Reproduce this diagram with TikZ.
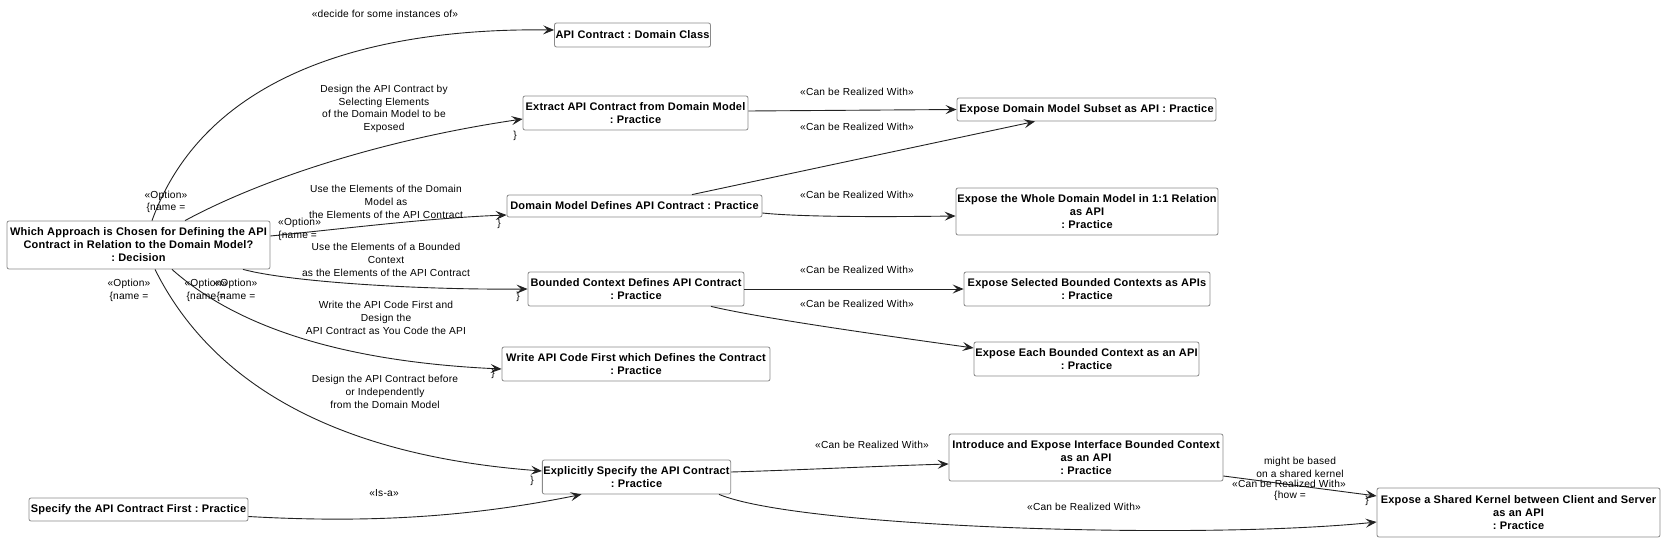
\documentclass[tikz,border=0pt]{standalone}
\usepackage{fontspec}
\setmainfont{Liberation Sans}
\newfontfamily\boxfont{Liberation Sans}[LetterSpace=2.0]
\newfontfamily\lblfont{Liberation Sans}[LetterSpace=2.0]
\usetikzlibrary{arrows.meta}
\definecolor{boxgray}{HTML}{8A8A8A}
\definecolor{linec}{HTML}{222222}
\begin{document}
\frenchspacing
\begin{tikzpicture}[x=1pt,y=-1pt,
  box/.style={draw=boxgray, fill=white, rounded corners=2pt, align=center,
    font=\boxfont\fontsize{11}{13}\selectfont\bfseries, inner sep=1pt, line width=0.8pt},
  conn/.style={draw=linec, line width=0.9pt, -{Stealth[length=11pt,width=9pt,inset=4.5pt]}},
  lbl/.style={align=center, font=\lblfont\fontsize{10.2}{12.7}\selectfont, inner sep=0pt}]
\useasboundingbox (0,0) rectangle (1668,543);

% nodes
\node[box, minimum width=263pt, minimum height=48pt] (dec) at (138.5,245)
  {Which Approach is Chosen for Defining the API\\Contract in Relation to the Domain Model?\\: Decision};
\node[box, minimum width=151pt, minimum height=24pt] (dc) at (632.5,35) {API Contract : Domain Class};
\node[box, minimum width=225pt, minimum height=34pt] (ex) at (635.5,113) {Extract API Contract from Domain Model\\: Practice};
\node[box, minimum width=259pt, minimum height=23pt] (sub) at (1086.5,109.5) {Expose Domain Model Subset as API : Practice};
\node[box, minimum width=255pt, minimum height=22pt] (dm) at (634.5,206) {Domain Model Defines API Contract : Practice};
\node[box, minimum width=262pt, minimum height=47pt] (whole) at (1087,211.5) {Expose the Whole Domain Model in 1:1 Relation\\as API\\: Practice};
\node[box, minimum width=216pt, minimum height=34pt] (bc) at (636,289) {Bounded Context Defines API Contract\\: Practice};
\node[box, minimum width=246pt, minimum height=34pt] (sel) at (1087,289) {Expose Selected Bounded Contexts as APIs\\: Practice};
\node[box, minimum width=225pt, minimum height=34pt] (each) at (1086.5,359) {Expose Each Bounded Context as an API\\: Practice};
\node[box, minimum width=268pt, minimum height=34pt] (wr) at (636,364) {Write API Code First which Defines the Contract\\: Practice};
\node[box, minimum width=274pt, minimum height=47pt] (intro) at (1086,457.5) {Introduce and Expose Interface Bounded Context\\as an API\\: Practice};
\node[box, minimum width=187pt, minimum height=34pt] (expl) at (636.5,477) {Explicitly Specify the API Contract\\: Practice};
\node[box, minimum width=219pt, minimum height=23pt] (spec) at (138.5,509.5) {Specify the API Contract First : Practice};
\node[box, minimum width=283pt, minimum height=49pt] (sk) at (1518.5,512.5) {Expose a Shared Kernel between Client and Server\\as an API\\: Practice};

% connectors
\draw[conn] ([xshift=13.5pt]dec.north) .. controls (210,60) and (400,28) .. ([yshift=5pt]dc.west);
\draw[conn] ([xshift=46.5pt]dec.north) .. controls (260,180) and (380,140) .. ([yshift=-6pt]ex.west);
\draw[conn] ([yshift=9pt]dec.east) .. controls (350,228) and (430,218) .. ([yshift=-9pt]dm.west);
\draw[conn] ([xshift=104.5pt]dec.south) .. controls (290,282) and (420,290) .. (bc.west);
\draw[conn] ([xshift=33.5pt]dec.south) .. controls (240,330) and (350,362) .. ([yshift=-5pt]wr.west);
\draw[conn] ([xshift=16.5pt]dec.south) .. controls (210,380) and (330,455) .. ([yshift=6pt]expl.west);
\draw[conn] ([yshift=-7pt]spec.east) .. controls (380,524) and (480,515) .. ([xshift=-55pt]expl.south);
\draw[conn] ([yshift=2pt]ex.east) -- (sub.west);
\draw[conn] ([xshift=57.5pt]dm.north) -- ([xshift=-51.5pt]sub.south);
\draw[conn] ([yshift=-7pt]dm.east) .. controls (800,217) and (880,217) .. ([yshift=-4.5pt]whole.west);
\draw[conn] (bc.east) -- (sel.west);
\draw[conn] ([xshift=75pt]bc.south) .. controls (760,318) and (880,335) .. ([yshift=11pt]each.west);
\draw[conn] ([yshift=5pt]expl.east) .. controls (800,470) and (880,466) .. ([yshift=-6.5pt]intro.west);
\draw[conn] ([xshift=82.5pt]expl.south) .. controls (800,528) and (1200,540) .. ([yshift=-9.5pt]sk.west);
\draw[conn] ([yshift=-18.5pt]intro.east) -- ([yshift=16.5pt]sk.west);

% labels
\node[lbl] (la) at (385,14) {«decide for some instances of»};
\node[lbl] (lb) at (384,109) {Design the API Contract by\\Selecting Elements\\of the Domain Model to be\\Exposed};
\node[lbl] (lbo) at (166,202) {«Option»\\\{name =};
\node[lbl] (lbe) at (515,136) {\}};
\node[lbl] (lc) at (386,202) {Use the Elements of the Domain\\Model as\\the Elements of the API Contract};
\node[lbl, align=left, anchor=west] (lco) at (278,229.5) {«Option»\\\{name =};
\node[lbl] (lce) at (499,224) {\}};
\node[lbl] (ld) at (386,260) {Use the Elements of a Bounded\\Context\\as the Elements of the API Contract};
\node[lbl] (ldo) at (236,290.5) {«Option»\\\{name =};
\node[lbl] (lde) at (518,297) {\}};
\node[lbl] (le) at (386,318) {Write the API Code First and\\Design the\\API Contract as You Code the API};
\node[lbl] (leo) at (206,290.5) {«Option»\\\{name =};
\node[lbl] (lee) at (493,374) {\}};
\node[lbl] (lf) at (385,392) {Design the API Contract before\\or Independently\\from the Domain Model};
\node[lbl] (lfo) at (129,290.5) {«Option»\\\{name =};
\node[lbl] (lfe) at (532,481) {\}};
\node[lbl] (lg) at (384,493) {«Is-a»};
\node[lbl] (lh) at (857,92) {«Can be Realized With»};
\node[lbl] (li) at (857,127) {«Can be Realized With»};
\node[lbl] (lj) at (857,195) {«Can be Realized With»};
\node[lbl] (lk) at (857,270) {«Can be Realized With»};
\node[lbl] (ll) at (857,304) {«Can be Realized With»};
\node[lbl] (lm) at (872,445) {«Can be Realized With»};
\node[lbl] (ln) at (1084,507) {«Can be Realized With»};
\node[lbl] (lo1) at (1300,467) {might be based\\on a shared kernel};
\node[lbl] (lo2) at (1289,484) {«Can be Realized With»};
\node[lbl] (lo3) at (1290,496) {\{how =};
\node[lbl] (loe) at (1367,501) {\}};
\end{tikzpicture}
\end{document}
